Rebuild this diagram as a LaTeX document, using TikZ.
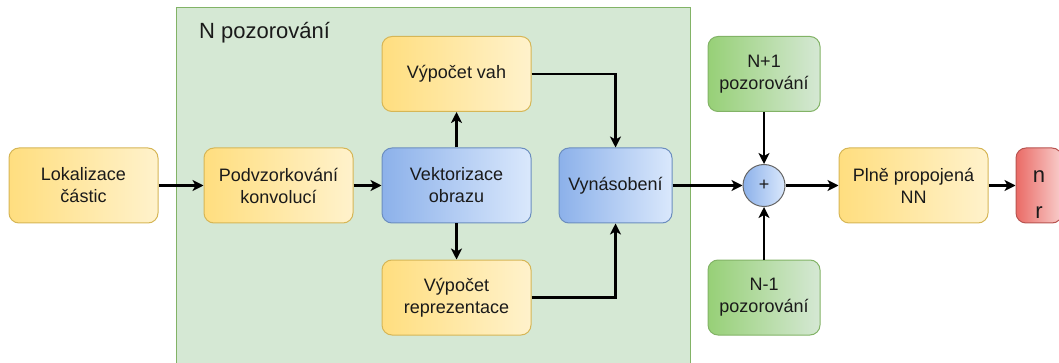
\documentclass[tikz,border=0pt]{standalone}
\usepackage{fontspec}
\setmainfont{Liberation Sans}
\usetikzlibrary{arrows.meta,calc}
\definecolor{flInk}{HTML}{1A1A1A}
\definecolor{flYellowA}{HTML}{FFDE7F}
\definecolor{flYellowB}{HTML}{FFF2CC}
\definecolor{flYellowLine}{HTML}{D6B656}
\definecolor{flBlueA}{HTML}{8CB1EA}
\definecolor{flBlueB}{HTML}{DAE8FC}
\definecolor{flBlueLine}{HTML}{6C8EBF}
\definecolor{flGreenA}{HTML}{97D077}
\definecolor{flGreenB}{HTML}{D5E8D4}
\definecolor{flGreenLine}{HTML}{82B366}
\definecolor{flRedA}{HTML}{EA6B66}
\definecolor{flRedB}{HTML}{F8CECC}
\definecolor{flRedLine}{HTML}{B85450}
\newcommand{\FLType}{\fontsize{18}{22}\selectfont}
\tikzset{fl/base/.style={x=1pt,y=1pt,line cap=butt,line join=miter,
  every node/.style={font=\FLType,inner sep=0pt,text=flInk}},
  fl/arrow/.style={-{Stealth[length=11pt,width=11pt,inset=3pt]},draw=black,line width=2.5pt},
  fl/box/.style={rounded corners=10pt,line width=1pt,minimum width=149pt,
    minimum height=75pt,align=center},
  fl/yellow/.style={fl/box,draw=flYellowLine,left color=flYellowA,right color=flYellowB},
  fl/blue/.style={fl/box,draw=flBlueLine,left color=flBlueA,right color=flBlueB},
  fl/green/.style={fl/box,draw=flGreenLine,left color=flGreenA,right color=flGreenB,
    minimum width=112pt},
  fl/red/.style={fl/box,draw=flRedLine,left color=flRedA,right color=flRedB,
    minimum width=46pt},
  fl/sum/.style={circle,draw=black!60,line width=1pt,minimum size=42pt,
    left color=flBlueA,right color=flBlueB}}

\begin{document}
\begin{tikzpicture}[fl/base,y=-1pt]
  \clip (0,0) rectangle (1059,363);
  % Group of blocks evaluated for each observation.
  \path[draw=flGreenLine,fill=flGreenB,line width=1pt] (176,8) rectangle (690,372);
  \node[anchor=west,font=\fontsize{22}{26}\selectfont] (group) at (199,33) {N pozorování};
  \node[fl/yellow] (lok) at (83.5,185.5) {Lokalizace\\částic};
  \node[fl/yellow] (podv) at (278.5,185.5) {Podvzorkování\\konvolucí};
  \node[fl/blue] (vekt) at (456.5,185.5) {Vektorizace\\obrazu};
  \node[fl/yellow] (vah) at (456.5,74) {Výpočet vah};
  \node[fl/yellow] (repr) at (456.5,297.5) {Výpočet\\reprezentace};
  \node[fl/blue,minimum width=113pt] (vyn) at (615.5,185.5) {Vynásobení};
  \node[fl/green] (np) at (764,74) {N+1\\pozorování};
  \node[fl/green] (nm) at (764,297.5) {N-1\\pozorování};
  \node[fl/sum] (plus) at (764,185.5) {+};
  \node[fl/yellow] (plne) at (913.5,185.5) {Plně propojená\\NN};
  \node[fl/red] (out) at (1039,185.5) {};
  \node[font=\fontsize{22}{36}\selectfont,align=center,yshift=-9pt] (outlbl)
    at (out.center) {n\\r};
  \draw[fl/arrow] (lok) -- (podv);
  \draw[fl/arrow] (podv) -- (vekt);
  \draw[fl/arrow] (vekt) -- (vah);
  \draw[fl/arrow] (vekt) -- (repr);
  \draw[fl/arrow] (vah.east) -| (vyn.north);
  \draw[fl/arrow] (repr.east) -| (vyn.south);
  \draw[fl/arrow] (vyn) -- (plus);
  \draw[fl/arrow] (np) -- (plus);
  \draw[fl/arrow] (nm) -- (plus);
  \draw[fl/arrow] (plus) -- (plne);
  \draw[fl/arrow] (plne) -- (out);
\end{tikzpicture}
\end{document}
